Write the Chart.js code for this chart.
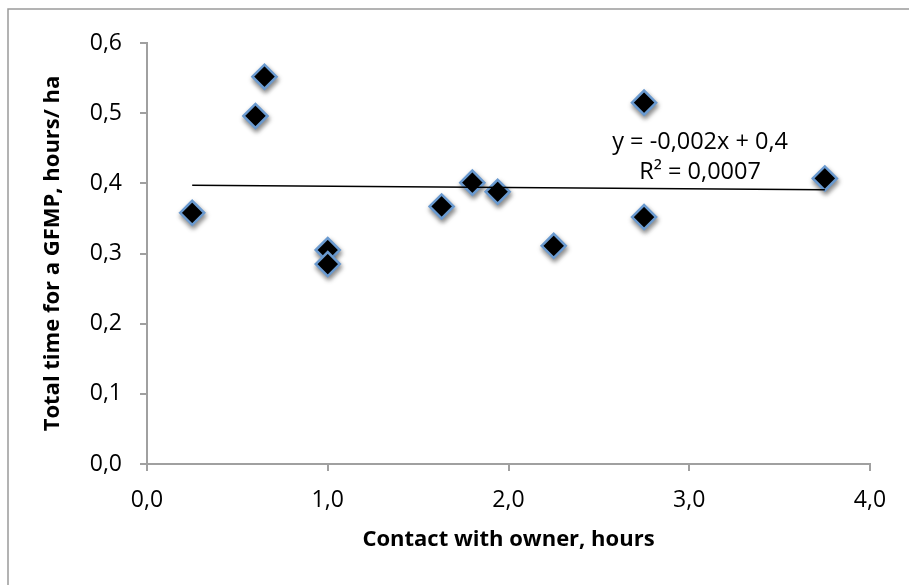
<!DOCTYPE html>
<html>
<head>
<meta charset="utf-8">
<script src="https://cdn.jsdelivr.net/npm/chart.js@4.4.0/dist/chart.umd.min.js"></script>
<style>
  html, body { margin: 0; padding: 0; background: #fff; }
  #wrap { width: 909px; height: 585px; position: relative; }
</style>
</head>
<body>
<div id="wrap"><canvas id="myChart" width="909" height="585"></canvas></div>
<script>
// contact with owner (hours) vs total time for a GFMP (hours/ha)
const contactHours = [0.25, 0.6, 0.65, 1.0, 1.0, 1.63, 1.8, 1.94, 2.25, 2.75, 2.75, 3.75];
const totalTime = [0.358, 0.496, 0.552, 0.305, 0.285, 0.367, 0.401, 0.388, 0.311, 0.515, 0.352, 0.407];
const trendText = ["y = -0,002x + 0,4", "R\u00b2 = 0,0007"];

const fontFamily = "'Open Sans', 'Liberation Sans', sans-serif";
const axisColor = "#a0a0a0";

// least squares line from the points
const n = contactHours.length;
const mx = contactHours.reduce((a, b) => a + b, 0) / n;
const my = totalTime.reduce((a, b) => a + b, 0) / n;
let sxy = 0, sxx = 0;
for (let i = 0; i < n; i++) {
    sxy += (contactHours[i] - mx) * (totalTime[i] - my);
    sxx += (contactHours[i] - mx) * (contactHours[i] - mx);
}
const slope = sxy / sxx;
const intercept = my - slope * mx;
const xMin = Math.min(...contactHours), xMax = Math.max(...contactHours);
const trendPoints = [
    { x: xMin, y: intercept + slope * xMin },
    { x: xMax, y: intercept + slope * xMax }
];

const points = contactHours.map((x, i) => ({ x: x, y: totalTime[i] }));

const markerShadow = {
    id: "markerShadow",
    beforeDatasetDraw(chart, args) {
        if (args.index !== 1) return;
        const ctx = chart.ctx;
        ctx.save();
        ctx.shadowColor = "rgba(0,0,0,0.45)";
        ctx.shadowBlur = 5;
        ctx.shadowOffsetX = 1;
        ctx.shadowOffsetY = 3;
    },
    afterDatasetDraw(chart, args) {
        if (args.index !== 1) return;
        chart.ctx.restore();
    }
};

const extras = {
    id: "extras",
    afterDraw(chart) {
        const ctx = chart.ctx;
        const xs = chart.scales.x, ys = chart.scales.y;
        ctx.save();
        // outer frame (top and left edge only)
        ctx.strokeStyle = "#9a9a9a";
        ctx.lineWidth = 1.5;
        ctx.beginPath();
        ctx.moveTo(8, 585);
        ctx.lineTo(8, 9);
        ctx.lineTo(909, 9);
        ctx.stroke();
        // equation label
        ctx.fillStyle = "#000";
        ctx.font = "23.5px " + fontFamily;
        ctx.textAlign = "center";
        ctx.textBaseline = "middle";
        const cx = xs.getPixelForValue(3.06);
        ctx.fillText(trendText[0], cx, ys.getPixelForValue(0.459));
        ctx.fillText(trendText[1], cx, ys.getPixelForValue(0.416));
        ctx.restore();
    }
};

new Chart("myChart", {
    type: "scatter",
    data: {
        datasets: [{
            type: "line",
            label: "Linear",
            data: trendPoints,
            borderColor: "#000",
            borderWidth: 1.5,
            pointRadius: 0,
            fill: false,
            order: 0
        }, {
            label: "Points",
            data: points,
            pointStyle: "rectRot",
            pointRadius: 12,
            pointHoverRadius: 12,
            backgroundColor: "#000",
            borderColor: "#6a9ad0",
            borderWidth: 2.5,
            order: 1
        }]
    },
    options: {
        responsive: false,
        animation: false,
        events: [],
        layout: { padding: { left: 0, right: 39, top: 43, bottom: 0 } },
        plugins: {
            legend: { display: false },
            tooltip: { enabled: false }
        },
        scales: {
            x: {
                type: "linear",
                min: 0,
                max: 4,
                afterFit(scale) { scale.height = 121; },
                border: { color: axisColor, width: 2 },
                grid: { drawOnChartArea: false, drawTicks: true, tickLength: 7, color: axisColor, lineWidth: 2 },
                ticks: {
                    stepSize: 1,
                    padding: 16,
                    color: "#000",
                    font: { family: fontFamily, size: 23 },
                    callback: v => v.toFixed(1).replace(".", ",")
                },
                title: {
                    display: true,
                    text: "Contact with owner, hours",
                    color: "#000",
                    font: { family: fontFamily, size: 22, weight: "bold" },
                    padding: { top: 0, bottom: 32 }
                }
            },
            y: {
                type: "linear",
                min: 0,
                max: 0.6,
                afterFit(scale) { scale.width = 147; },
                border: { color: axisColor, width: 2 },
                grid: { drawOnChartArea: false, drawTicks: true, tickLength: 7, color: axisColor, lineWidth: 2 },
                ticks: {
                    stepSize: 0.1,
                    padding: 18,
                    color: "#000",
                    font: { family: fontFamily, size: 23 },
                    callback: v => v.toFixed(1).replace(".", ",")
                },
                title: {
                    display: true,
                    text: "Total time for a GFMP, hours/ ha",
                    color: "#000",
                    font: { family: fontFamily, size: 22, weight: "bold" },
                    padding: { top: 40, bottom: 0 }
                }
            }
        }
    },
    plugins: [markerShadow, extras]
});
</script>
</body>
</html>
